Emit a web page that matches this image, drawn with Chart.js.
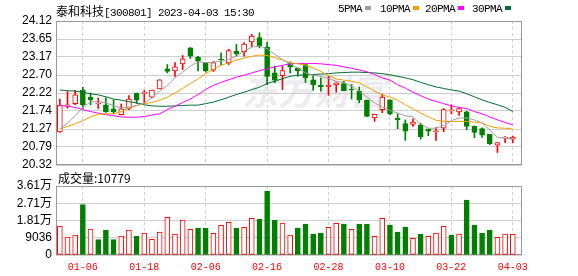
<!DOCTYPE html>
<html>
<head>
<meta charset="utf-8">
<script src="https://cdn.jsdelivr.net/npm/chart.js"></script>
<style>
body { margin: 0; background: #fff; }
#wrap { position: relative; width: 578px; height: 276px; overflow: hidden; }
#wrap canvas { position: absolute; left: 0; top: 0; }
.mono { font-family: "Liberation Mono", monospace; font-size: 11px; letter-spacing: -0.6px; }
#title { position: absolute; left: 56px; top: 2px; color: #000; white-space: nowrap; }
#title .cjk { font-family: "Noto Sans CJK SC", sans-serif; font-size: 12px; }
.leg { position: absolute; top: 3px; color: #000; white-space: nowrap; }
.leg i { display: inline-block; width: 6px; height: 4px; margin-left: 3px; vertical-align: 2px; }
#volLabel { position: absolute; left: 58px; top: 169px; font-family: "Noto Sans CJK SC", sans-serif; font-size: 12px; color: #000; }
</style>
</head>
<body>
<div id="wrap">
  <canvas id="kChart" width="578" height="276"></canvas>
  <canvas id="volChart" width="578" height="276"></canvas>
  <div id="title"><span class="cjk">泰和科技</span><span class="mono">[300801] 2023-04-03 15:30</span></div>
  <div id="legend"></div>
  <div id="volLabel"></div>
</div>
<script>
// trading days shown
var dates = ["01-03","01-04","01-05","01-06","01-09","01-10","01-11","01-12","01-13","01-16",
  "01-17","01-18","01-19","01-20","01-30","01-31","02-01","02-02","02-03","02-06",
  "02-07","02-08","02-09","02-10","02-13","02-14","02-15","02-16","02-17","02-20",
  "02-21","02-22","02-23","02-24","02-27","02-28","03-01","03-02","03-03","03-06",
  "03-07","03-08","03-09","03-10","03-13","03-14","03-15","03-16","03-17","03-20",
  "03-21","03-22","03-23","03-24","03-27","03-28","03-29","03-30","03-31","04-03"];

var open = [21.19,21.88,21.94,22.30,22.11,21.93,21.91,21.80,21.65,21.81,
  22.22,22.21,22.11,22.33,22.86,22.80,22.99,23.41,23.17,23.02,
  22.82,23.11,23.02,23.32,23.31,23.57,23.68,23.44,22.75,22.68,
  23.01,22.88,22.97,22.57,22.42,22.39,22.43,22.47,22.32,22.27,
  22.03,21.56,21.78,22.04,21.55,21.41,21.39,21.38,21.27,21.19,
  21.29,21.75,21.72,21.72,21.35,21.28,21.13,20.84,21.03,21.00];
var high = [22.06,22.26,22.29,22.37,22.22,22.09,22.09,22.04,21.93,22.15,
  22.22,22.29,22.30,22.57,22.97,23.02,23.21,23.42,23.19,23.03,
  23.05,23.28,23.37,23.50,23.55,23.77,23.81,23.56,22.93,22.93,
  23.04,22.88,22.97,22.71,22.62,22.66,22.49,22.53,22.44,22.38,
  22.03,21.66,22.19,22.04,21.67,21.51,21.54,21.42,21.27,21.31,
  21.81,21.91,21.83,21.74,21.35,21.30,21.13,20.91,21.07,21.08];
var low = [21.18,21.82,21.91,21.81,21.91,21.81,21.71,21.67,21.64,21.78,
  21.94,21.94,22.09,22.33,22.75,22.66,22.84,23.13,22.80,22.77,
  22.79,22.97,22.97,23.19,23.19,23.44,23.41,22.44,22.49,22.31,
  22.75,22.66,22.50,22.29,22.27,22.16,22.24,22.28,22.06,21.96,
  21.60,21.47,21.70,21.64,21.28,20.97,21.34,21.00,21.09,20.97,
  21.20,21.67,21.63,21.25,21.04,21.05,20.86,20.65,20.91,20.91];
var close = [21.90,21.91,22.17,21.91,22.04,21.95,21.73,21.72,21.80,22.06,
  22.03,22.23,22.30,22.57,22.79,22.91,23.12,23.19,23.06,22.81,
  23.02,23.09,23.34,23.26,23.51,23.72,23.46,22.66,22.56,22.81,
  22.91,22.80,22.62,22.44,22.39,22.42,22.49,22.28,22.30,22.04,
  21.60,21.66,22.11,21.67,21.51,21.21,21.45,21.07,21.21,21.22,
  21.78,21.77,21.81,21.34,21.18,21.11,20.88,20.91,21.05,21.06];

var ma5 = [21.27,21.43,21.62,21.85,21.98,22.00,21.96,21.89,21.82,21.85,
  21.89,21.96,22.09,22.27,22.42,22.62,22.77,22.93,23.04,23.02,
  23.03,23.06,23.10,23.19,23.32,23.43,23.46,23.39,23.24,23.10,
  22.99,22.87,22.75,22.69,22.66,22.60,22.53,22.49,22.40,22.27,
  22.11,21.96,21.85,21.76,21.69,21.62,21.59,21.40,21.29,21.29,
  21.36,21.49,21.56,21.56,21.51,21.43,21.24,21.05,21.03,21.00];
var ma10 = [21.27,21.34,21.41,21.49,21.59,21.66,21.67,21.67,21.73,21.82,
  21.89,21.94,21.97,22.03,22.11,22.22,22.34,22.47,22.59,22.73,
  22.84,22.95,23.02,23.09,23.14,23.19,23.22,23.21,23.15,23.09,
  23.02,22.99,22.95,22.88,22.79,22.68,22.59,22.56,22.53,22.49,
  22.38,22.27,22.17,22.11,22.03,21.91,21.80,21.69,21.59,21.50,
  21.47,21.47,21.47,21.47,21.45,21.43,21.34,21.30,21.29,21.27];
var ma20 = [21.89,21.87,21.84,21.78,21.73,21.69,21.65,21.62,21.59,21.58,
  21.58,21.60,21.64,21.67,21.78,21.87,21.97,22.06,22.18,22.31,
  22.42,22.50,22.57,22.64,22.69,22.75,22.81,22.86,22.91,22.95,
  22.99,23.00,23.00,23.00,22.99,22.97,22.95,22.91,22.87,22.83,
  22.78,22.71,22.62,22.56,22.44,22.35,22.24,22.15,22.06,22.00,
  21.94,21.88,21.84,21.81,21.73,21.67,21.59,21.51,21.44,21.38];
var ma30 = [22.30,22.28,22.27,22.24,22.20,22.17,22.12,22.06,22.03,21.99,
  21.96,21.91,21.88,21.87,21.87,21.88,21.89,21.90,21.90,21.94,
  21.98,22.04,22.11,22.18,22.24,22.31,22.37,22.47,22.53,22.60,
  22.66,22.69,22.70,22.71,22.72,22.73,22.75,22.76,22.77,22.77,
  22.76,22.75,22.73,22.70,22.66,22.62,22.57,22.50,22.44,22.38,
  22.34,22.30,22.27,22.20,22.12,22.04,21.97,21.91,21.84,21.73];

var volume = [15190,9430,10480,26360,13620,8030,13100,8030,9950,13100,
  9950,11520,8210,12050,19730,11000,18330,13440,14140,14140,
  11350,15540,17110,14140,14490,19210,18860,33520,18330,16760,
  10480,14140,16240,11000,11520,14490,16590,16240,13440,16240,
  16240,9780,19210,15710,12050,14670,8730,11000,9780,11520,
  15020,10480,11000,28810,15710,11520,13100,9250,11000,10779];

var priceTicks = [20.32,20.795,21.27,21.745,22.22,22.695,23.17,23.645,24.12];
var priceTickLabels = ["20.32","20.79","21.27","21.74","22.22","22.70","23.17","23.65","24.12"];
var volTicks = [0,9036,18072,27108,36144];
var volTickLabels = ["0","9036","1.81万","2.71万","3.61万"];
var dateTickIdx = [3,11,19,27,35,43,51,59];

var maNames = ["5PMA","10PMA","20PMA","30PMA"];
var maColors = ["#a0a0a0","#f0a000","#ff00ff","#006e2e"];

var RED = "#ff0000", GREEN = "#008000", GRID = "#cfcfcf", FRAME = "#999";

// html text
document.getElementById("volLabel").textContent = "成交量:" + volume[volume.length - 1];
var legX = [338, 380, 425, 472];
var legHtml = "";
maNames.forEach(function(n, k){
  legHtml += '<div class="leg mono" style="left:' + legX[k] + 'px">' + n + '<i style="background:' + maColors[k] + '"></i></div>';
});
document.getElementById("legend").innerHTML = legHtml;

var frame = {
  id: "frame",
  beforeDatasetsDraw: function(chart){
    var a = chart.chartArea, c = chart.ctx;
    c.save();
    if (chart.canvas.id === "kChart") {
      c.font = "italic bold 36px 'Noto Sans CJK SC'";
      c.fillStyle = "rgba(200,200,210,0.35)";
      c.textBaseline = "middle";
      c.fillText("东方财富", 242, 91);
    }
    c.strokeStyle = FRAME;
    c.lineWidth = 1;
    c.strokeRect(Math.round(a.left) + 0.5, Math.round(a.top) + 0.5, Math.round(a.right - a.left) - 1, Math.round(a.bottom - a.top) - 1);
    c.restore();
  }
};

var xScale = function(showLabels){
  return {
    type: "linear", min: -0.5, max: 60.2, offset: false,
    afterBuildTicks: function(s){ s.ticks = dateTickIdx.map(function(v){ return {value: v}; }); },
    afterFit: function(s){ s.height = showLabels ? 21 : 0; },
    grid: { color: GRID, drawTicks: false, offset: false },
    border: { display: false, dash: [3, 3] },
    ticks: {
      display: showLabels, autoSkip: false, maxRotation: 0, padding: 6, color: RED,
      font: { family: "'Liberation Mono', monospace", size: 10 },
      callback: function(v){ return dates[v]; }
    }
  };
};

var yScale = function(min, max, vals, labels){
  return {
    min: min, max: max,
    afterBuildTicks: function(s){ s.ticks = vals.map(function(v){ return {value: v}; }); },
    afterFit: function(s){ s.width = 56; },
    grid: { color: GRID, drawTicks: false },
    border: { display: false },
    ticks: {
      autoSkip: false, padding: 4, color: "#000",
      font: { family: "'Liberation Sans', 'Noto Sans CJK SC', sans-serif", size: 12 },
      callback: function(v, i){ return labels[i]; }
    }
  };
};

var idx = dates.map(function(d, i){ return i; });
var isUp = idx.map(function(i){ return close[i] >= open[i]; });

var maSets = [ma5, ma10, ma20, ma30].map(function(arr, k){
  return {
    type: "line", label: maNames[k], order: 0,
    data: arr.map(function(v, i){ return {x: i, y: v}; }),
    borderColor: maColors[k], borderWidth: 1, pointRadius: 0, tension: 0, fill: false
  };
});

new Chart(document.getElementById("kChart"), {
  type: "bar",
  data: {
    datasets: maSets.concat([
      {
        label: "body", order: 1, grouped: false, barThickness: 5, minBarLength: 1, borderSkipped: false,
        data: idx.map(function(i){ return {x: i, y: [open[i], close[i]]}; }),
        backgroundColor: idx.map(function(i){ return isUp[i] ? "#fff" : GREEN; }),
        borderColor: idx.map(function(i){ return isUp[i] ? RED : GREEN; }),
        borderWidth: 1
      },
      {
        label: "wick", order: 2, grouped: false, barThickness: 1, borderSkipped: false,
        data: idx.map(function(i){ return {x: i, y: [low[i], high[i]]}; }),
        backgroundColor: idx.map(function(i){ return isUp[i] ? RED : GREEN; }),
        borderWidth: 0
      }
    ])
  },
  options: {
    responsive: false, animation: false, devicePixelRatio: 1,
    layout: { padding: { left: 0, right: 56, top: 21, bottom: 111 } },
    plugins: { legend: { display: false }, tooltip: { enabled: false } },
    scales: {
      x: xScale(false),
      y: yScale(20.32, 24.12, priceTicks, priceTickLabels)
    }
  },
  plugins: [frame]
});

// volume colour follows change against the previous close
var volUp = idx.map(function(i){ return i === 0 || close[i] >= close[i - 1]; });

new Chart(document.getElementById("volChart"), {
  type: "bar",
  data: {
    datasets: [{
      label: "volume", grouped: false, barThickness: 5, borderSkipped: false,
      data: idx.map(function(i){ return {x: i, y: volume[i]}; }),
      backgroundColor: idx.map(function(i){ return volUp[i] ? "#fff" : GREEN; }),
      borderColor: idx.map(function(i){ return volUp[i] ? RED : GREEN; }),
      borderWidth: 1
    }]
  },
  options: {
    responsive: false, animation: false, devicePixelRatio: 1,
    layout: { padding: { left: 0, right: 56, top: 186, bottom: 0 } },
    plugins: { legend: { display: false }, tooltip: { enabled: false } },
    scales: {
      x: xScale(true),
      y: yScale(0, 36144, volTicks, volTickLabels)
    }
  },
  plugins: [frame]
});
</script>
</body>
</html>
